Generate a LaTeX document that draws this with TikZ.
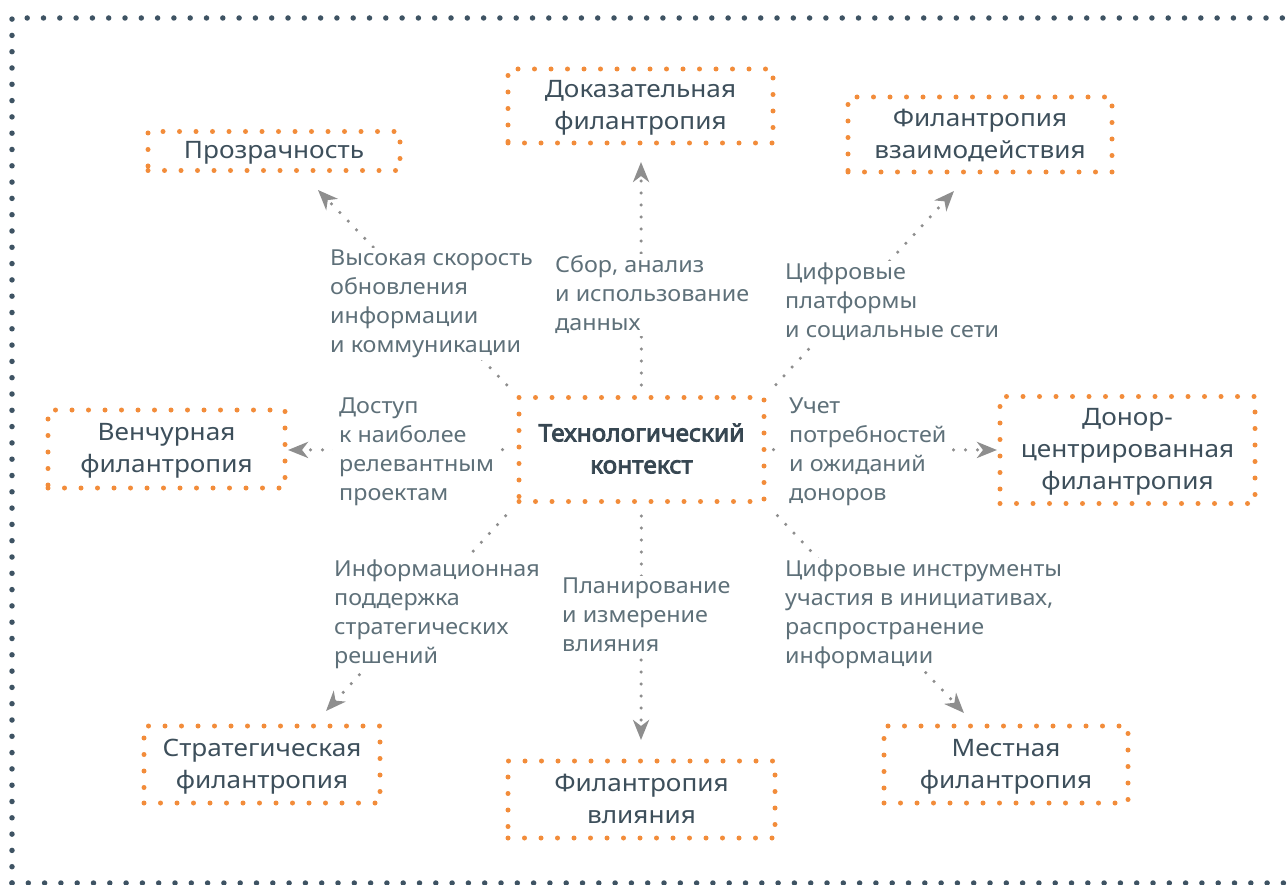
\documentclass[tikz,border=0pt]{standalone}
\usepackage{fontspec}
\setmainfont{Noto Sans}
\newfontfamily\boxfont{Noto Sans}[FakeStretch=1.09]
\newfontfamily\labfont{Noto Sans}[FakeStretch=1.06]
\newfontfamily\ctrfont{Noto Sans}[FakeStretch=1.02, FakeBold=3.5]
\usetikzlibrary{arrows.meta}
\definecolor{orng}{HTML}{F28C3A}
\definecolor{slate}{HTML}{3D4F5B}
\definecolor{lbl}{HTML}{5E7079}
\definecolor{conngray}{HTML}{8E8E8E}
\definecolor{framec}{HTML}{3E5363}
\begin{document}
\begin{tikzpicture}[x=1pt,y=-1pt,
  box/.style={draw=orng, line width=5pt, dash pattern=on 0pt off 16.5pt, line cap=round,
    align=center, text=slate, font=\boxfont\fontsize{24}{32}\selectfont, inner sep=0pt,
    text depth=2pt},
  lab/.style={anchor=west, align=left, text=lbl, font=\labfont\fontsize{22}{29}\selectfont,
    fill=white, inner xsep=6pt, inner ysep=2pt},
  conn/.style={draw=conngray, line width=3.5pt, dash pattern=on 0pt off 12pt, line cap=round,
    -{Stealth[length=20pt,width=16pt,inset=6pt]}},
  framed/.style={draw=framec, line width=5.5pt, dash pattern=on 0pt off 16.3pt, line cap=round}
]
\useasboundingbox (0,0) rectangle (1287,885);
\clip (0,0) rectangle (1287,885);
% outer frame
\draw[framed] (12,883) -- (12,18) -- (1300,18);
\draw[framed] (12,883) -- (1300,883);

% boxes
\node[box, minimum width=252pt, minimum height=39pt] (p) at (274,151) {Прозрачность};
\node[box, minimum width=265pt, minimum height=74pt] (d) at (640.5,106) {Доказательная\\филантропия};
\node[box, minimum width=264pt, minimum height=75pt] (v) at (980,134.5) {Филантропия\\взаимодействия};
\node[box, minimum width=237pt, minimum height=78pt] (ven) at (166.5,449) {Венчурная\\филантропия};
\node[box, minimum width=245pt, minimum height=104pt, font=\ctrfont\fontsize{24}{32}\selectfont, text=slate!90!black] (c) at (641.5,449.5) {Технологический\\контекст};
\node[box, minimum width=255pt, minimum height=107pt] (don) at (1127.5,450) {Донор-\\центрированная\\филантропия};
\node[box, minimum width=236pt, minimum height=77pt] (s) at (262,764.5) {Стратегическая\\филантропия};
\node[box, minimum width=267pt, minimum height=77pt] (inf) at (641.5,799.5) {Филантропия\\влияния};
\node[box, minimum width=244pt, minimum height=77pt] (m) at (1006,764.5) {Местная\\филантропия};

% arrow tips
\coordinate (t1) at (318,190);
\coordinate (t2) at (641,162);
\coordinate (t3) at (954,191);
\coordinate (t4) at (288,450);
\coordinate (t5) at (997,450);
\coordinate (t6) at (326,711);
\coordinate (t7) at (641,740);
\coordinate (t8) at (964,713);

\draw[conn, shorten <=14pt] (c.north west) -- (t1);
\draw[conn, shorten <=10pt] (c.north) -- (t2);
\draw[conn, shorten <=14pt] (c.north east) -- (t3);
\draw[conn, shorten <=14pt] (c.west) -- (t4);
\draw[conn, shorten <=7pt] (c.east) -- (t5);
\draw[conn, shorten <=16pt] (c.south west) -- (t6);
\draw[conn, shorten <=12pt] (c.south) -- (t7);
\draw[conn, shorten <=16pt] (c.south east) -- (t8);

% labels
\node[lab] (l1) at (324,304) {Высокая скорость\\обновления\\информации\\и коммуникации};
\node[lab] (l2) at (549,295) {Сбор, анализ\\и использование\\данных};
\node[lab] (l3) at (779,302) {Цифровые\\платформы\\и социальные сети};
\node[lab] (l4) at (333,452) {Доступ\\к наиболее\\релевантным\\проектам};
\node[lab] (l5) at (783,452) {Учет\\потребностей\\и ожиданий\\доноров};
\node[lab] (l6) at (328,614.5) {Информационная\\поддержка\\стратегических\\решений};
\node[lab] (l7) at (556,615) {Планирование\\и измерение\\влияния};
\node[lab] (l8) at (779,614.5) {Цифровые инструменты\\участия в инициативах,\\распространение\\информации};
\end{tikzpicture}
\end{document}
